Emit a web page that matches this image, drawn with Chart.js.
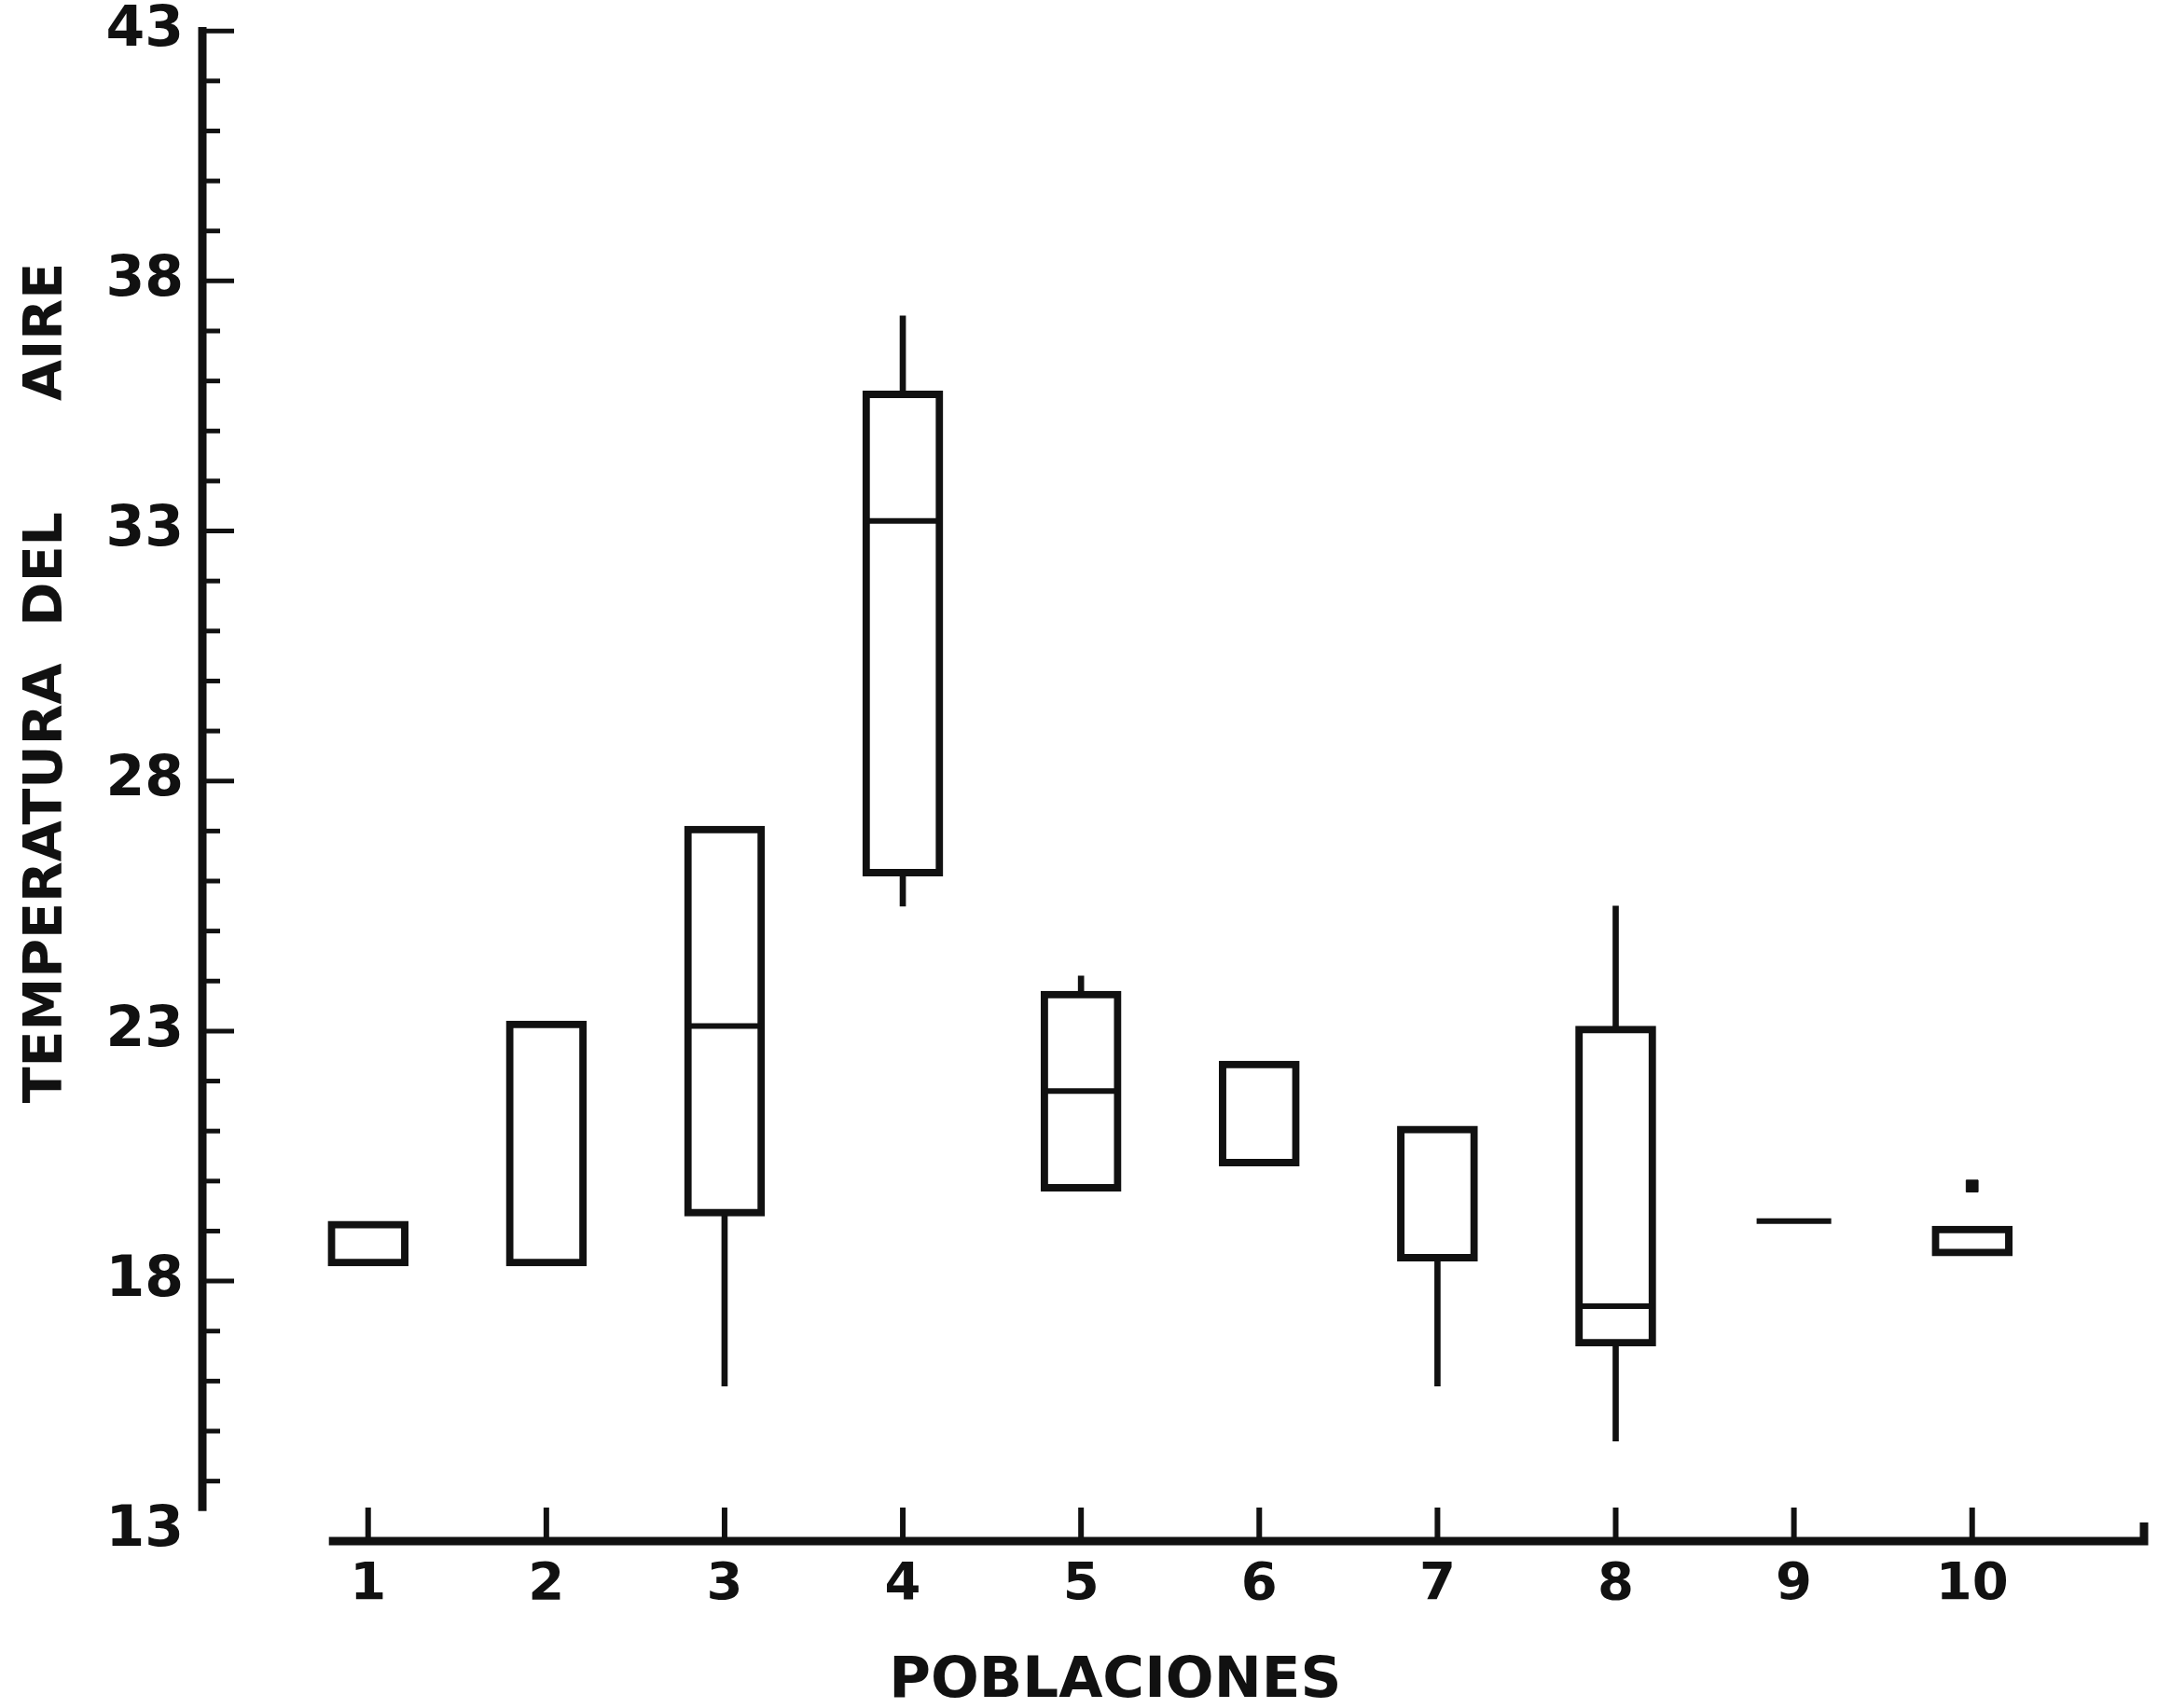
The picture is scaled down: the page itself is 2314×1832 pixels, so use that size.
<!DOCTYPE html>
<html>
<head>
<meta charset="utf-8">
<script src="https://cdn.jsdelivr.net/npm/chart.js@4.4.1/dist/chart.umd.min.js"></script>
<style>
  html, body { margin: 0; padding: 0; background: #fff; }
  canvas { display: block; }
</style>
</head>
<body>
<canvas id="boxChart" width="2314" height="1832"></canvas>
<script>
// poblaciones 1..10, temperatura del aire
const categories = [1, 2, 3, 4, 5, 6, 7, 8, 9, 10];
const q1 = [18.3, 18.3, 19.3, 26.1, 19.8, 20.3, 18.4, 16.7, null, 18.5];
const q3 = [19.2, 23.2, 27.1, 35.8, 23.8, 22.4, 21.1, 23.1, null, 19.1];
const medians = [null, null, 23.1, 33.2, 21.8, null, null, 17.5, 19.2, null];
const whiskerLow = [null, null, 15.9, 25.5, null, null, 15.9, 14.8, null, null];
const whiskerHigh = [null, null, null, 37.3, 24.1, null, null, 25.5, null, null];
const outliers = [null, null, null, null, null, null, null, null, null, 19.9];
const yLabels = [13, 18, 23, 28, 33, 38, 43];

const ink = '#111';
const font = { family: 'DejaVu Sans', weight: 'bold' };

const yTicks = [];
for (let v = 13; v <= 43; v++) yTicks.push(v);

function pairs(lo, hi) {
  return categories
    .map((c, i) => ({ x: c, y: (lo[i] == null || hi[i] == null) ? null : [lo[i], hi[i]] }))
    .filter(d => d.y !== null);
}
function points(vals) {
  return categories
    .map((c, i) => ({ x: c, y: vals[i] }))
    .filter(d => d.y !== null);
}

// axis lines and inward tick marks, drawn from the chart's own scales
const axisLines = {
  id: 'axisLines',
  afterDraw(chart) {
    const { ctx } = chart;
    const x = chart.scales.x, y = chart.scales.y;
    ctx.save();
    ctx.strokeStyle = ink;
    ctx.lineCap = 'butt';

    // vertical axis
    const ax = x.left;
    ctx.lineWidth = 9;
    ctx.beginPath();
    ctx.moveTo(ax, y.getPixelForValue(43.08));
    ctx.lineTo(ax, y.getPixelForValue(13.4));
    ctx.stroke();

    ctx.lineWidth = 5;
    y.ticks.forEach(t => {
      if (t.value === 13) return;
      const len = yLabels.includes(t.value) ? 34 : 19;
      const py = y.getPixelForValue(t.value);
      ctx.beginPath();
      ctx.moveTo(ax, py);
      ctx.lineTo(ax + len, py);
      ctx.stroke();
    });

    // horizontal axis
    const by = y.bottom;
    ctx.lineWidth = 9;
    ctx.beginPath();
    ctx.moveTo(x.getPixelForValue(0.78), by);
    ctx.lineTo(x.right - 3, by);
    ctx.lineTo(x.right - 3, by - 20);
    ctx.stroke();

    ctx.lineWidth = 6;
    x.ticks.forEach(t => {
      const px = x.getPixelForValue(t.value);
      ctx.beginPath();
      ctx.moveTo(px, by);
      ctx.lineTo(px, by - 36);
      ctx.stroke();
    });
    ctx.restore();
  }
};

new Chart(document.getElementById('boxChart').getContext('2d'), {
  type: 'bar',
  data: {
    datasets: [
      {
        type: 'line',
        label: 'mediana',
        data: points(medians),
        showLine: false,
        pointStyle: 'line',
        pointRadius: 40,
        pointBorderWidth: 6,
        pointBorderColor: ink,
        order: 0
      },
      {
        type: 'line',
        label: 'extremo',
        data: points(outliers),
        showLine: false,
        pointStyle: 'rect',
        pointRadius: 9,
        pointBackgroundColor: ink,
        pointBorderColor: ink,
        pointBorderWidth: 1,
        order: 0
      },
      {
        label: 'caja',
        data: pairs(q1, q3),
        backgroundColor: '#fff',
        borderColor: ink,
        borderWidth: 8,
        borderSkipped: false,
        barThickness: 86,
        grouped: false,
        order: 1
      },
      {
        label: 'bigote inferior',
        data: pairs(whiskerLow, q1),
        backgroundColor: ink,
        borderWidth: 0,
        barThickness: 6,
        grouped: false,
        order: 2
      },
      {
        label: 'bigote superior',
        data: pairs(q3, whiskerHigh),
        backgroundColor: ink,
        borderWidth: 0,
        barThickness: 6,
        grouped: false,
        order: 2
      }
    ]
  },
  options: {
    responsive: false,
    animation: false,
    devicePixelRatio: 1,
    layout: { autoPadding: false, padding: { top: 0, right: 12, left: 0, bottom: 0 } },
    plugins: {
      legend: { display: false },
      tooltip: { enabled: false }
    },
    events: [],
    scales: {
      x: {
        type: 'linear',
        min: 0.07,
        max: 10.98,
        offset: false,
        grid: { display: false, drawTicks: false },
        border: { display: false },
        afterBuildTicks: (s) => { s.ticks = categories.map(v => ({ value: v })); },
        afterFit: (s) => { s.height = 179; },
        ticks: {
          color: ink,
          padding: 14,
          autoSkip: false,
          maxRotation: 0,
          font: { ...font, size: 56 }
        },
        title: {
          display: true,
          text: 'POBLACIONES      ',
          color: ink,
          padding: { top: 0, bottom: 0 },
          font: { ...font, size: 61, lineHeight: 0.9 }
        }
      },
      y: {
        type: 'linear',
        min: 12.8,
        max: 43.05,
        grid: { display: false, drawTicks: false },
        border: { display: false },
        afterBuildTicks: (s) => { s.ticks = yTicks.map(v => ({ value: v })); },
        afterFit: (s) => { s.width = 217; },
        ticks: {
          color: ink,
          padding: 20,
          autoSkip: false,
          font: { ...font, size: 60, lineHeight: 0.35 },
          callback: (v) => yLabels.includes(v) ? String(v) : ''
        },
        title: {
          display: true,
          text: '           TEMPERATURA  DEL      AIRE',
          color: ink,
          padding: { top: 23, bottom: 0 },
          font: { ...font, size: 57, lineHeight: 1 }
        }
      }
    }
  },
  plugins: [axisLines]
});
</script>
</body>
</html>
